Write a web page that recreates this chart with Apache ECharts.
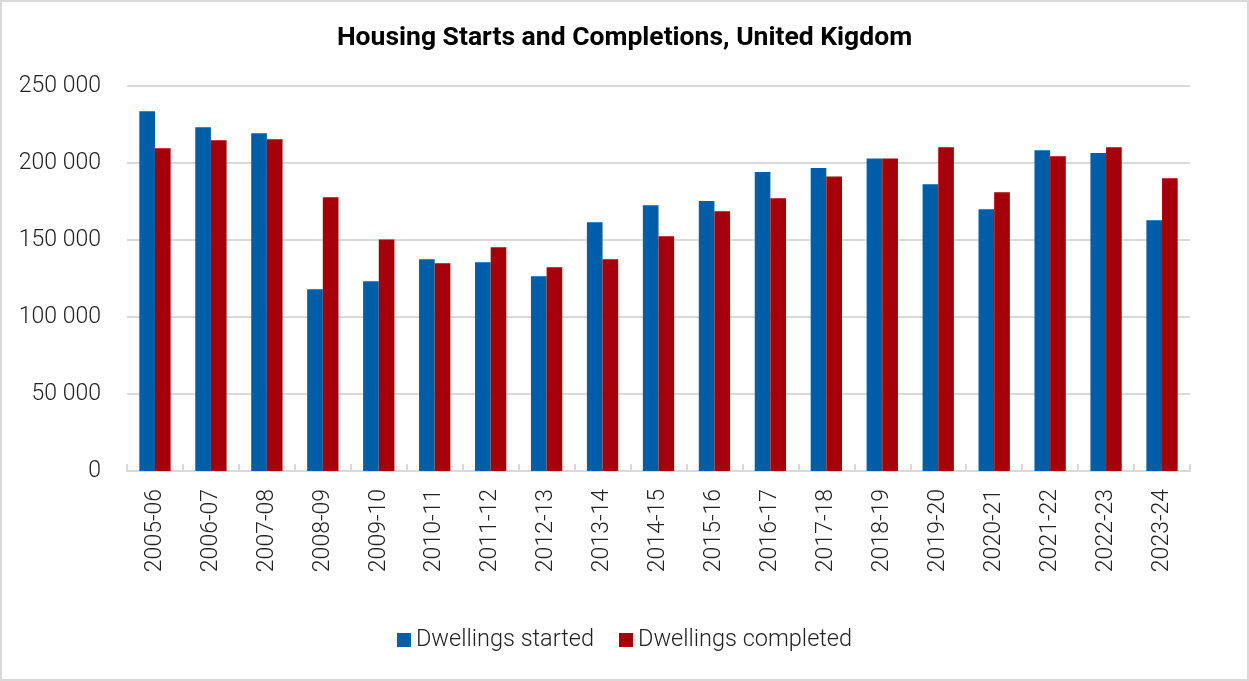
<!DOCTYPE html>
<html>
<head>
<meta charset="utf-8">
<script src="https://cdn.jsdelivr.net/npm/echarts@6/dist/echarts.min.js"></script>
<style>
html,body{margin:0;padding:0;background:#fff;}
#c{width:1249px;height:681px;box-sizing:border-box;border:2px solid #d9d9d9;}
</style>
</head>
<body>
<div id="c"></div>
<script>
const categories = ['2005-06','2006-07','2007-08','2008-09','2009-10','2010-11','2011-12','2012-13','2013-14','2014-15','2015-16','2016-17','2017-18','2018-19','2019-20','2020-21','2021-22','2022-23','2023-24'];
const started = [233600,223200,219300,118000,123200,137500,135500,126400,161500,172500,175300,194200,196800,203000,186200,169900,208200,206500,162800];
const completed = [209500,214700,215400,177700,150400,134900,145300,132300,137500,152400,168600,177100,191300,203000,210200,181000,204400,210200,190100];
const yTicks = [0,50000,100000,150000,200000,250000];

const fmt = v => String(v).replace(/\B(?=(\d{3})+(?!\d))/g, ' ');
const chart = echarts.init(document.getElementById('c'), null, {renderer:'canvas'});
chart.setOption({
  animation:false,
  title:{text:'Housing Starts and Completions, United Kigdom', left:'center', top:18,
    textStyle:{fontFamily:'Roboto', fontWeight:700, fontSize:26.5, color:'#000'}},
  legend:{bottom:22, left:'center', icon:'rect', itemWidth:14, itemHeight:14, itemGap:25,
    textStyle:{fontFamily:'Roboto', fontWeight:300, fontSize:23.5, color:'#222'},
    data:['Dwellings started','Dwellings completed']},
  grid:{left:125, right:57, top:84, bottom:208},
  xAxis:{type:'category', data:categories,
    axisLine:{lineStyle:{color:'#d9d9d9', width:2}},
    axisTick:{show:true, inside:true, length:7, alignWithLabel:false, lineStyle:{color:'#d9d9d9', width:2}},
    axisLabel:{rotate:90, margin:18, fontFamily:'Roboto', fontWeight:300, fontSize:23, color:'#222', interval:0}},
  yAxis:{type:'value', min:yTicks[0], max:yTicks[yTicks.length-1], interval:50000,
    axisLine:{show:false}, axisTick:{show:false},
    splitLine:{lineStyle:{color:'#d9d9d9', width:2}},
    axisLabel:{margin:26, fontFamily:'Roboto', fontWeight:300, fontSize:23, color:'#222', formatter:fmt}},
  series:[
    {name:'Dwellings started', type:'bar', data:started, barGap:'0%', barCategoryGap:'44%',
      itemStyle:{color:'#005ea8'}},
    {name:'Dwellings completed', type:'bar', data:completed,
      itemStyle:{color:'#a50009'}}
  ]
});
</script>
</body>
</html>
